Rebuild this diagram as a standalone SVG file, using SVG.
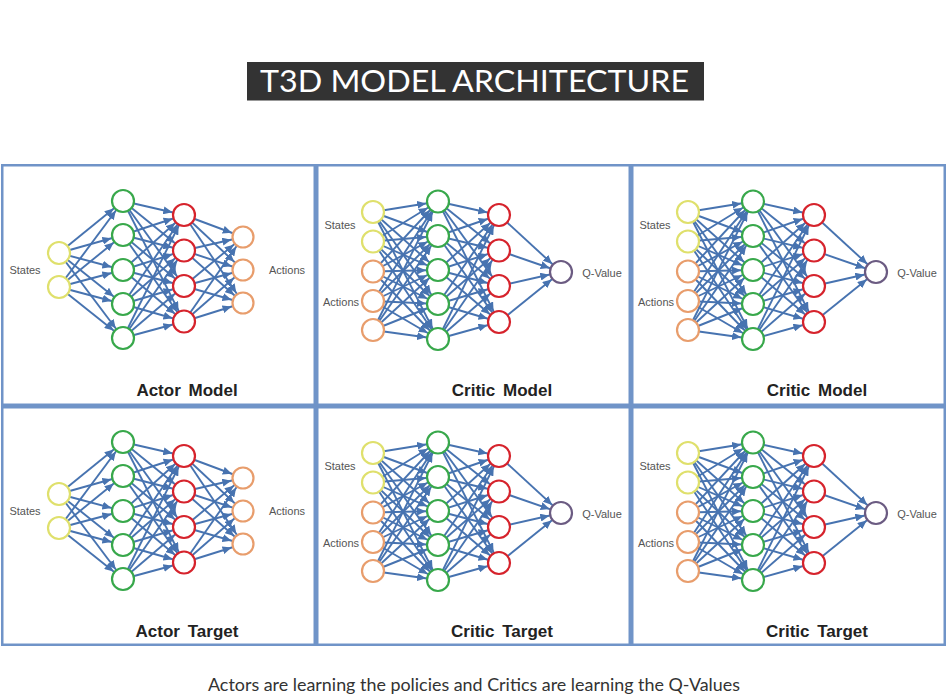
<svg xmlns="http://www.w3.org/2000/svg" width="948" height="699" viewBox="0 0 948 699">
<style>
.panel{fill:#fff;stroke:#7094c8;stroke-width:2.5}
.e{stroke:#4773b0;stroke-width:1.9;fill:none;marker-end:url(#ah)}
circle{fill:#fff;stroke-width:2.2}
.y{stroke:#dfe06c}.g{stroke:#38a84b}.r{stroke:#d6232c}.o{stroke:#e89d6c}.q{stroke:#6b5b82}
.lbl{font-family:"Liberation Sans",Arial,sans-serif;font-size:11px;fill:#555}
.ttl{font-family:"Liberation Sans",Arial,sans-serif;font-weight:bold;font-size:17px;fill:#222;text-anchor:middle;word-spacing:3px}
</style>
<defs>
<marker id="ah" markerUnits="userSpaceOnUse" markerWidth="9" markerHeight="8" refX="21" refY="4" orient="auto"><path d="M0,0 L9,4 L0,8 z" fill="#4773b0"/></marker>
<g id="edges-actor">
<line class="e" x1="59" y1="253" x2="123" y2="201"/><line class="e" x1="59" y1="253" x2="123" y2="235"/><line class="e" x1="59" y1="253" x2="123" y2="270"/><line class="e" x1="59" y1="253" x2="123" y2="304"/><line class="e" x1="59" y1="253" x2="123" y2="338"/>
<line class="e" x1="59" y1="287" x2="123" y2="201"/><line class="e" x1="59" y1="287" x2="123" y2="235"/><line class="e" x1="59" y1="287" x2="123" y2="270"/><line class="e" x1="59" y1="287" x2="123" y2="304"/><line class="e" x1="59" y1="287" x2="123" y2="338"/>
<line class="e" x1="123" y1="201" x2="184" y2="215"/><line class="e" x1="123" y1="201" x2="184" y2="250.5"/><line class="e" x1="123" y1="201" x2="184" y2="286"/><line class="e" x1="123" y1="201" x2="184" y2="321.5"/>
<line class="e" x1="123" y1="235" x2="184" y2="215"/><line class="e" x1="123" y1="235" x2="184" y2="250.5"/><line class="e" x1="123" y1="235" x2="184" y2="286"/><line class="e" x1="123" y1="235" x2="184" y2="321.5"/>
<line class="e" x1="123" y1="270" x2="184" y2="215"/><line class="e" x1="123" y1="270" x2="184" y2="250.5"/><line class="e" x1="123" y1="270" x2="184" y2="286"/><line class="e" x1="123" y1="270" x2="184" y2="321.5"/>
<line class="e" x1="123" y1="304" x2="184" y2="215"/><line class="e" x1="123" y1="304" x2="184" y2="250.5"/><line class="e" x1="123" y1="304" x2="184" y2="286"/><line class="e" x1="123" y1="304" x2="184" y2="321.5"/>
<line class="e" x1="123" y1="338" x2="184" y2="215"/><line class="e" x1="123" y1="338" x2="184" y2="250.5"/><line class="e" x1="123" y1="338" x2="184" y2="286"/><line class="e" x1="123" y1="338" x2="184" y2="321.5"/>
<line class="e" x1="184" y1="215" x2="243" y2="237"/><line class="e" x1="184" y1="215" x2="243" y2="270"/><line class="e" x1="184" y1="215" x2="243" y2="303"/>
<line class="e" x1="184" y1="250.5" x2="243" y2="237"/><line class="e" x1="184" y1="250.5" x2="243" y2="270"/><line class="e" x1="184" y1="250.5" x2="243" y2="303"/>
<line class="e" x1="184" y1="286" x2="243" y2="237"/><line class="e" x1="184" y1="286" x2="243" y2="270"/><line class="e" x1="184" y1="286" x2="243" y2="303"/>
<line class="e" x1="184" y1="321.5" x2="243" y2="237"/><line class="e" x1="184" y1="321.5" x2="243" y2="270"/><line class="e" x1="184" y1="321.5" x2="243" y2="303"/>
</g>
<g id="edges-critic">
<line class="e" x1="373" y1="212" x2="438" y2="201.5"/><line class="e" x1="373" y1="212" x2="438" y2="236"/><line class="e" x1="373" y1="212" x2="438" y2="270"/><line class="e" x1="373" y1="212" x2="438" y2="304"/><line class="e" x1="373" y1="212" x2="438" y2="339"/>
<line class="e" x1="373" y1="241.5" x2="438" y2="201.5"/><line class="e" x1="373" y1="241.5" x2="438" y2="236"/><line class="e" x1="373" y1="241.5" x2="438" y2="270"/><line class="e" x1="373" y1="241.5" x2="438" y2="304"/><line class="e" x1="373" y1="241.5" x2="438" y2="339"/>
<line class="e" x1="373" y1="271.5" x2="438" y2="201.5"/><line class="e" x1="373" y1="271.5" x2="438" y2="236"/><line class="e" x1="373" y1="271.5" x2="438" y2="270"/><line class="e" x1="373" y1="271.5" x2="438" y2="304"/><line class="e" x1="373" y1="271.5" x2="438" y2="339"/>
<line class="e" x1="373" y1="301" x2="438" y2="201.5"/><line class="e" x1="373" y1="301" x2="438" y2="236"/><line class="e" x1="373" y1="301" x2="438" y2="270"/><line class="e" x1="373" y1="301" x2="438" y2="304"/><line class="e" x1="373" y1="301" x2="438" y2="339"/>
<line class="e" x1="373" y1="330" x2="438" y2="201.5"/><line class="e" x1="373" y1="330" x2="438" y2="236"/><line class="e" x1="373" y1="330" x2="438" y2="270"/><line class="e" x1="373" y1="330" x2="438" y2="304"/><line class="e" x1="373" y1="330" x2="438" y2="339"/>
<line class="e" x1="438" y1="201.5" x2="499" y2="215"/><line class="e" x1="438" y1="201.5" x2="499" y2="250.5"/><line class="e" x1="438" y1="201.5" x2="499" y2="286"/><line class="e" x1="438" y1="201.5" x2="499" y2="322"/>
<line class="e" x1="438" y1="236" x2="499" y2="215"/><line class="e" x1="438" y1="236" x2="499" y2="250.5"/><line class="e" x1="438" y1="236" x2="499" y2="286"/><line class="e" x1="438" y1="236" x2="499" y2="322"/>
<line class="e" x1="438" y1="270" x2="499" y2="215"/><line class="e" x1="438" y1="270" x2="499" y2="250.5"/><line class="e" x1="438" y1="270" x2="499" y2="286"/><line class="e" x1="438" y1="270" x2="499" y2="322"/>
<line class="e" x1="438" y1="304" x2="499" y2="215"/><line class="e" x1="438" y1="304" x2="499" y2="250.5"/><line class="e" x1="438" y1="304" x2="499" y2="286"/><line class="e" x1="438" y1="304" x2="499" y2="322"/>
<line class="e" x1="438" y1="339" x2="499" y2="215"/><line class="e" x1="438" y1="339" x2="499" y2="250.5"/><line class="e" x1="438" y1="339" x2="499" y2="286"/><line class="e" x1="438" y1="339" x2="499" y2="322"/>
<line class="e" x1="499" y1="215" x2="561" y2="272"/><line class="e" x1="499" y1="250.5" x2="561" y2="272"/><line class="e" x1="499" y1="286" x2="561" y2="272"/><line class="e" x1="499" y1="322" x2="561" y2="272"/>
</g>
</defs>
<rect width="948" height="699" fill="#fff"/>
<g id="title">
<rect x="247" y="62" width="457" height="38.5" fill="#333"/>
<text x="260" y="91.5" textLength="429" lengthAdjust="spacingAndGlyphs" font-family="Lato,'Liberation Sans',sans-serif" font-size="31" fill="#fff">T3D MODEL ARCHITECTURE</text>
</g>
<g id="panels">
<rect class="panel" x="2.25" y="165.25" width="312.5" height="239.5"/>
<rect class="panel" x="317.25" y="165.25" width="312.5" height="239.5"/>
<rect class="panel" x="632.25" y="165.25" width="312.5" height="239.5"/>
<rect class="panel" x="2.25" y="407.25" width="312.5" height="237.5"/>
<rect class="panel" x="317.25" y="407.25" width="312.5" height="237.5"/>
<rect class="panel" x="632.25" y="407.25" width="312.5" height="237.5"/>
</g>
<g id="connectors">
<use href="#edges-actor"/>
<use href="#edges-actor" transform="translate(0,241)"/>
<use href="#edges-critic"/>
<use href="#edges-critic" transform="translate(315,0)"/>
<use href="#edges-critic" transform="translate(0,241)"/>
<use href="#edges-critic" transform="translate(315,241)"/>
</g>
<g id="actor-model">
<g id="am-s1"><circle class="y" cx="59" cy="253" r="11"/></g>
<g id="am-s2"><circle class="y" cx="59" cy="287" r="11"/></g>
<g id="am-h1"><circle class="g" cx="123" cy="201" r="11"/></g>
<g id="am-h2"><circle class="g" cx="123" cy="235" r="11"/></g>
<g id="am-h3"><circle class="g" cx="123" cy="270" r="11"/></g>
<g id="am-h4"><circle class="g" cx="123" cy="304" r="11"/></g>
<g id="am-h5"><circle class="g" cx="123" cy="338" r="11"/></g>
<g id="am-k1"><circle class="r" cx="184" cy="215" r="11"/></g>
<g id="am-k2"><circle class="r" cx="184" cy="250.5" r="11"/></g>
<g id="am-k3"><circle class="r" cx="184" cy="286" r="11"/></g>
<g id="am-k4"><circle class="r" cx="184" cy="321.5" r="11"/></g>
<g id="am-a1"><circle class="o" cx="243" cy="237" r="10.5"/></g>
<g id="am-a2"><circle class="o" cx="243" cy="270" r="10.5"/></g>
<g id="am-a3"><circle class="o" cx="243" cy="303" r="10.5"/></g>
<text class="lbl" x="25" y="274" text-anchor="middle">States</text>
<text class="lbl" x="287" y="274" text-anchor="middle">Actions</text>
<text class="ttl" x="187" y="396">Actor Model</text>
</g>
<g id="actor-target" transform="translate(0,241)">
<g id="at-s1"><circle class="y" cx="59" cy="253" r="11"/></g>
<g id="at-s2"><circle class="y" cx="59" cy="287" r="11"/></g>
<g id="at-h1"><circle class="g" cx="123" cy="201" r="11"/></g>
<g id="at-h2"><circle class="g" cx="123" cy="235" r="11"/></g>
<g id="at-h3"><circle class="g" cx="123" cy="270" r="11"/></g>
<g id="at-h4"><circle class="g" cx="123" cy="304" r="11"/></g>
<g id="at-h5"><circle class="g" cx="123" cy="338" r="11"/></g>
<g id="at-k1"><circle class="r" cx="184" cy="215" r="11"/></g>
<g id="at-k2"><circle class="r" cx="184" cy="250.5" r="11"/></g>
<g id="at-k3"><circle class="r" cx="184" cy="286" r="11"/></g>
<g id="at-k4"><circle class="r" cx="184" cy="321.5" r="11"/></g>
<g id="at-a1"><circle class="o" cx="243" cy="237" r="10.5"/></g>
<g id="at-a2"><circle class="o" cx="243" cy="270" r="10.5"/></g>
<g id="at-a3"><circle class="o" cx="243" cy="303" r="10.5"/></g>
<text class="lbl" x="25" y="274" text-anchor="middle">States</text>
<text class="lbl" x="287" y="274" text-anchor="middle">Actions</text>
<text class="ttl" x="187" y="396">Actor Target</text>
</g>
<g id="critic-model-1">
<g id="cm1-i1"><circle class="y" cx="373" cy="212" r="11"/></g>
<g id="cm1-i2"><circle class="y" cx="373" cy="241.5" r="11"/></g>
<g id="cm1-i3"><circle class="o" cx="373" cy="271.5" r="11"/></g>
<g id="cm1-i4"><circle class="o" cx="373" cy="301" r="11"/></g>
<g id="cm1-i5"><circle class="o" cx="373" cy="330" r="11"/></g>
<g id="cm1-h1"><circle class="g" cx="438" cy="201.5" r="11"/></g>
<g id="cm1-h2"><circle class="g" cx="438" cy="236" r="11"/></g>
<g id="cm1-h3"><circle class="g" cx="438" cy="270" r="11"/></g>
<g id="cm1-h4"><circle class="g" cx="438" cy="304" r="11"/></g>
<g id="cm1-h5"><circle class="g" cx="438" cy="339" r="11"/></g>
<g id="cm1-k1"><circle class="r" cx="499" cy="215" r="11"/></g>
<g id="cm1-k2"><circle class="r" cx="499" cy="250.5" r="11"/></g>
<g id="cm1-k3"><circle class="r" cx="499" cy="286" r="11"/></g>
<g id="cm1-k4"><circle class="r" cx="499" cy="322" r="11"/></g>
<g id="cm1-q"><circle class="q" cx="561" cy="272" r="11"/></g>
<text class="lbl" x="340" y="229" text-anchor="middle">States</text>
<text class="lbl" x="341" y="305.5" text-anchor="middle">Actions</text>
<text class="lbl" x="602" y="276.5" text-anchor="middle">Q-Value</text>
<text class="ttl" x="502" y="396">Critic Model</text>
</g>
<g id="critic-model-2" transform="translate(315,0)">
<g id="cm2-i1"><circle class="y" cx="373" cy="212" r="11"/></g>
<g id="cm2-i2"><circle class="y" cx="373" cy="241.5" r="11"/></g>
<g id="cm2-i3"><circle class="o" cx="373" cy="271.5" r="11"/></g>
<g id="cm2-i4"><circle class="o" cx="373" cy="301" r="11"/></g>
<g id="cm2-i5"><circle class="o" cx="373" cy="330" r="11"/></g>
<g id="cm2-h1"><circle class="g" cx="438" cy="201.5" r="11"/></g>
<g id="cm2-h2"><circle class="g" cx="438" cy="236" r="11"/></g>
<g id="cm2-h3"><circle class="g" cx="438" cy="270" r="11"/></g>
<g id="cm2-h4"><circle class="g" cx="438" cy="304" r="11"/></g>
<g id="cm2-h5"><circle class="g" cx="438" cy="339" r="11"/></g>
<g id="cm2-k1"><circle class="r" cx="499" cy="215" r="11"/></g>
<g id="cm2-k2"><circle class="r" cx="499" cy="250.5" r="11"/></g>
<g id="cm2-k3"><circle class="r" cx="499" cy="286" r="11"/></g>
<g id="cm2-k4"><circle class="r" cx="499" cy="322" r="11"/></g>
<g id="cm2-q"><circle class="q" cx="561" cy="272" r="11"/></g>
<text class="lbl" x="340" y="229" text-anchor="middle">States</text>
<text class="lbl" x="341" y="305.5" text-anchor="middle">Actions</text>
<text class="lbl" x="602" y="276.5" text-anchor="middle">Q-Value</text>
<text class="ttl" x="502" y="396">Critic Model</text>
</g>
<g id="critic-target-1" transform="translate(0,241)">
<g id="ct1-i1"><circle class="y" cx="373" cy="212" r="11"/></g>
<g id="ct1-i2"><circle class="y" cx="373" cy="241.5" r="11"/></g>
<g id="ct1-i3"><circle class="o" cx="373" cy="271.5" r="11"/></g>
<g id="ct1-i4"><circle class="o" cx="373" cy="301" r="11"/></g>
<g id="ct1-i5"><circle class="o" cx="373" cy="330" r="11"/></g>
<g id="ct1-h1"><circle class="g" cx="438" cy="201.5" r="11"/></g>
<g id="ct1-h2"><circle class="g" cx="438" cy="236" r="11"/></g>
<g id="ct1-h3"><circle class="g" cx="438" cy="270" r="11"/></g>
<g id="ct1-h4"><circle class="g" cx="438" cy="304" r="11"/></g>
<g id="ct1-h5"><circle class="g" cx="438" cy="339" r="11"/></g>
<g id="ct1-k1"><circle class="r" cx="499" cy="215" r="11"/></g>
<g id="ct1-k2"><circle class="r" cx="499" cy="250.5" r="11"/></g>
<g id="ct1-k3"><circle class="r" cx="499" cy="286" r="11"/></g>
<g id="ct1-k4"><circle class="r" cx="499" cy="322" r="11"/></g>
<g id="ct1-q"><circle class="q" cx="561" cy="272" r="11"/></g>
<text class="lbl" x="340" y="229" text-anchor="middle">States</text>
<text class="lbl" x="341" y="305.5" text-anchor="middle">Actions</text>
<text class="lbl" x="602" y="276.5" text-anchor="middle">Q-Value</text>
<text class="ttl" x="502" y="396">Critic Target</text>
</g>
<g id="critic-target-2" transform="translate(315,241)">
<g id="ct2-i1"><circle class="y" cx="373" cy="212" r="11"/></g>
<g id="ct2-i2"><circle class="y" cx="373" cy="241.5" r="11"/></g>
<g id="ct2-i3"><circle class="o" cx="373" cy="271.5" r="11"/></g>
<g id="ct2-i4"><circle class="o" cx="373" cy="301" r="11"/></g>
<g id="ct2-i5"><circle class="o" cx="373" cy="330" r="11"/></g>
<g id="ct2-h1"><circle class="g" cx="438" cy="201.5" r="11"/></g>
<g id="ct2-h2"><circle class="g" cx="438" cy="236" r="11"/></g>
<g id="ct2-h3"><circle class="g" cx="438" cy="270" r="11"/></g>
<g id="ct2-h4"><circle class="g" cx="438" cy="304" r="11"/></g>
<g id="ct2-h5"><circle class="g" cx="438" cy="339" r="11"/></g>
<g id="ct2-k1"><circle class="r" cx="499" cy="215" r="11"/></g>
<g id="ct2-k2"><circle class="r" cx="499" cy="250.5" r="11"/></g>
<g id="ct2-k3"><circle class="r" cx="499" cy="286" r="11"/></g>
<g id="ct2-k4"><circle class="r" cx="499" cy="322" r="11"/></g>
<g id="ct2-q"><circle class="q" cx="561" cy="272" r="11"/></g>
<text class="lbl" x="340" y="229" text-anchor="middle">States</text>
<text class="lbl" x="341" y="305.5" text-anchor="middle">Actions</text>
<text class="lbl" x="602" y="276.5" text-anchor="middle">Q-Value</text>
<text class="ttl" x="502" y="396">Critic Target</text>
</g>
<g id="caption">
<text x="208" y="691" textLength="532" lengthAdjust="spacingAndGlyphs" font-family="Lato,'Liberation Sans',sans-serif" font-size="17.5" fill="#333">Actors are learning the policies and Critics are learning the Q-Values</text>
</g>
</svg>
